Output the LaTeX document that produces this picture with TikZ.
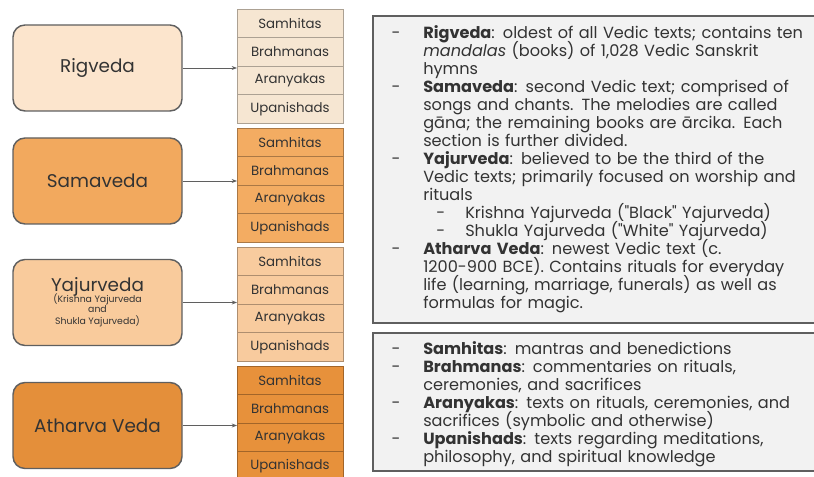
\documentclass[tikz,border=0pt]{standalone}
\usepackage{fontspec}
\setmainfont{Poppins}
\usetikzlibrary{positioning,arrows.meta}

\definecolor{txt}{HTML}{333333}
\definecolor{edge}{HTML}{5F5F5F}
\definecolor{rigfill}{HTML}{FCE5CD}
\definecolor{samfill}{HTML}{F2A95E}
\definecolor{yajfill}{HTML}{F9CB9C}
\definecolor{athfill}{HTML}{E48F3A}
\definecolor{rigpart}{HTML}{F6E6D2}
\definecolor{sampart}{HTML}{F3AC62}
\definecolor{yajpart}{HTML}{F8CB9E}
\definecolor{athpart}{HTML}{E7913B}
\definecolor{infofill}{HTML}{F2F2F2}

\newcommand{\bul}{\leavevmode\llap{-\hspace{17pt}}}
\newcommand{\subbul}{\leavevmode\hspace*{31.5pt}\llap{-\hspace{15pt}}}
\newcommand{\notefont}{\fontsize{12.1}{13.5}\selectfont\lineskiplimit=-6pt\relax}

\begin{document}
\begin{tikzpicture}[x=0.75pt,y=-0.75pt,>={Stealth[length=4pt,width=3pt]},
	veda/.style={draw=edge,line width=1.1pt,rounded corners=9pt,minimum width=126.75pt,minimum height=64.5pt,text=txt,font=\fontsize{13.8}{15}\selectfont},
	part/.style={fill=#1,draw=#1!70!black,line width=0.6pt,minimum width=79.5pt,minimum height=21.4pt,inner sep=0pt,outer sep=0pt,text=txt,font=\fontsize{10}{11}\selectfont},
	info/.style={fill=infofill,draw=edge,line width=1.5pt,anchor=north west,inner sep=0pt},
	note/.style={anchor=north west,inner sep=0pt,text width=330pt,align=left,text=txt,font=\notefont}]
	\useasboundingbox (0,0) rectangle (814,477);
	\clip (0,0) rectangle (814,477);

	% the four Vedas
	\node (Rig) [veda,fill=rigfill] at (97.5,68) {Rigveda};
	\node (Sam) [veda,fill=samfill] at (97.5,181) {Samaveda};
	\node (Yaj) [veda,fill=yajfill,align=center] at (97.5,302.5) {Yajurveda\\[-3pt]{\fontsize{7}{8}\selectfont\begin{tabular}{@{}c@{}}(Krishna Yajurveda\\and\\Shukla Yajurveda)\end{tabular}}};
	\node (Ath) [veda,fill=athfill] at (97.5,425.5) {Atharva Veda};

	% parts of each Veda
	\node (RigSam) [part=rigpart] at (290,23.25) {Samhitas};
	\node (RigBra) [part=rigpart,below=0pt of RigSam] {Brahmanas};
	\node (RigAra) [part=rigpart,below=0pt of RigBra] {Aranyakas};
	\node (RigUpa) [part=rigpart,below=0pt of RigAra] {Upanishads};

	\node (SamSam) [part=sampart] at (290,142.25) {Samhitas};
	\node (SamBra) [part=sampart,below=0pt of SamSam] {Brahmanas};
	\node (SamAra) [part=sampart,below=0pt of SamBra] {Aranyakas};
	\node (SamUpa) [part=sampart,below=0pt of SamAra] {Upanishads};

	\node (YajSam) [part=yajpart] at (290,261.25) {Samhitas};
	\node (YajBra) [part=yajpart,below=0pt of YajSam] {Brahmanas};
	\node (YajAra) [part=yajpart,below=0pt of YajBra] {Aranyakas};
	\node (YajUpa) [part=yajpart,below=0pt of YajAra] {Upanishads};

	\node (AthSam) [part=athpart] at (290,380.25) {Samhitas};
	\node (AthBra) [part=athpart,below=0pt of AthSam] {Brahmanas};
	\node (AthAra) [part=athpart,below=0pt of AthBra] {Aranyakas};
	\node (AthUpa) [part=athpart,below=0pt of AthAra] {Upanishads};

	\draw[->,edge,line width=0.6pt] (Rig) -- (Rig -| RigBra.west);
	\draw[->,edge,line width=0.6pt] (Sam) -- (Sam -| SamBra.west);
	\draw[->,edge,line width=0.6pt] (Yaj) -- (Yaj -| YajBra.west);
	\draw[->,edge,line width=0.6pt] (Ath) -- (Ath -| AthBra.west);

	% notes
	\node (Books) [info,minimum width=336pt,minimum height=230.25pt] at (372,15) {};
	\node (Parts) [info,minimum width=336pt,minimum height=103.5pt] at (372,332) {};
	\node (BooksText) [note] at (423,25) {%
		\bul\textbf{Rigveda}: oldest of all Vedic texts; contains ten\\
		\textit{mandalas} (books) of 1,028 Vedic Sanskrit\\
		hymns\\
		\bul\textbf{Samaveda}: second Vedic text; comprised of\\
		songs and chants. The melodies are called\\
		gāna; the remaining books are ārcika. Each\\
		section is further divided.\\
		\bul\textbf{Yajurveda}: believed to be the third of the\\
		Vedic texts; primarily focused on worship and\\
		rituals\\
		\subbul Krishna Yajurveda (\textquotedbl Black\textquotedbl{} Yajurveda)\\
		\subbul Shukla Yajurveda (\textquotedbl White\textquotedbl{} Yajurveda)\\
		\bul\textbf{Atharva Veda}: newest Vedic text (c.\\
		1200-900 BCE). Contains rituals for everyday\\
		life (learning, marriage, funerals) as well as\\
		formulas for magic.};
	\node (PartsText) [note] at (423,341) {%
		\bul\textbf{Samhitas}: mantras and benedictions\\
		\bul\textbf{Brahmanas}: commentaries on rituals,\\
		ceremonies, and sacrifices\\
		\bul\textbf{Aranyakas}: texts on rituals, ceremonies, and\\
		sacrifices (symbolic and otherwise)\\
		\bul\textbf{Upanishads}: texts regarding meditations,\\
		philosophy, and spiritual knowledge};
\end{tikzpicture}
\end{document}
